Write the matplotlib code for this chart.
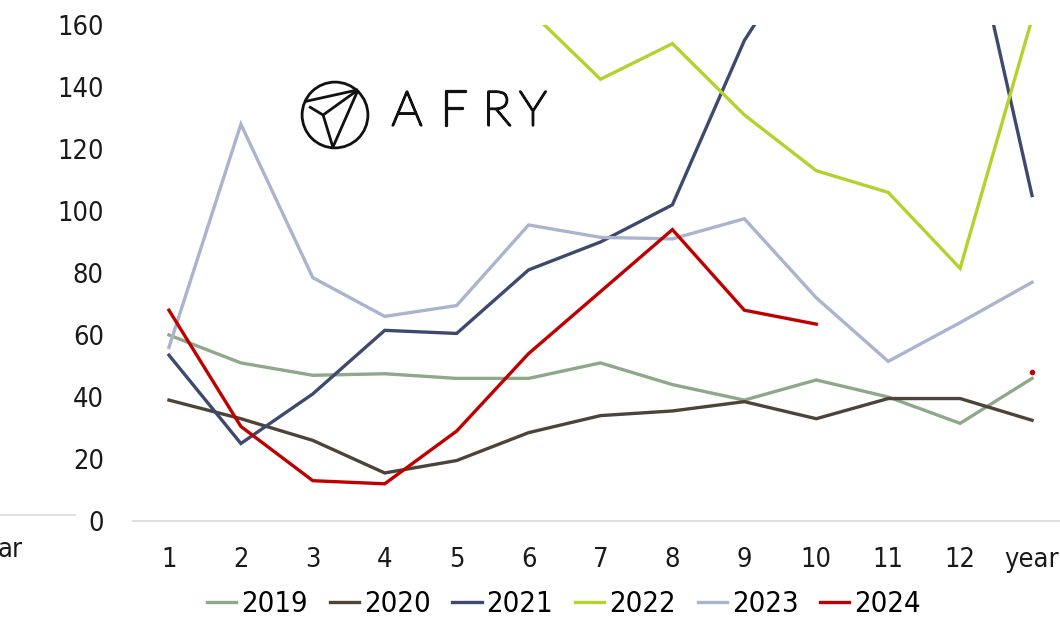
import numpy as np
import matplotlib.pyplot as plt
import matplotlib.patheffects as pe
from matplotlib.lines import Line2D
from matplotlib.patches import Circle

nan = np.nan

# monthly averages, last point is the yearly average
categories = ["1", "2", "3", "4", "5", "6", "7", "8", "9", "10", "11", "12", "year"]
y2019 = [60, 51, 47, 47.5, 46, 46, 51, 44, 39, 45.5, 40, 31.5, 46]
y2020 = [39, 33, 26, 15.5, 19.5, 28.5, 34, 35.5, 38.5, 33, 39.5, 39.5, 32.5]
y2021 = [53.5, 25, 41, 61.5, 60.5, 81, 90, 102, 155, 191, 180, 208, 105]
y2022 = [180, 172, 230, 190, 175, 165, 142.5, 154, 131, 113, 106, 81.5, 162]
y2023 = [56, 128, 78.5, 66, 69.5, 95.5, 91.5, 91, 97.5, 72, 51.5, 64, 77]
y2024 = [68, 30.5, 13, 12, 29, 54, 74, 94, 68, 63.5, nan, nan, 48]

series = {
    "2019": (y2019, "#8ea88a"),
    "2020": (y2020, "#4d4336"),
    "2021": (y2021, "#3d4a6d"),
    "2022": (y2022, "#b4d22c"),
    "2023": (y2023, "#aab4cf"),
    "2024": (y2024, "#c00000"),
}

FONT = ["DejaVu Sans Condensed", "DejaVu Sans"]
plt.rcParams["font.family"] = FONT
plt.rcParams["font.stretch"] = "condensed"

W, H = 1060, 619
fig = plt.figure(figsize=(W / 100, H / 100), dpi=100)
ax = fig.add_axes([133 / W, 1 - 521 / H, 935 / W, 496 / H])

x = np.arange(1, len(categories) + 1)
for name, (vals, col) in series.items():
    ax.plot(x, vals, color=col, lw=2.4, label=name, solid_joinstyle="miter")
# yearly 2024 value stands alone
ax.plot(x[-1:], y2024[-1:], "o", color="#c00000", ms=4, mec="none")

ax.set_xlim(0.5, 13.5)
ax.set_ylim(0, 160)
ax.set_yticks(np.arange(0, 161, 20))
ax.set_xticks(x)
ax.set_xticklabels(categories)
for s in ["top", "right", "left"]:
    ax.spines[s].set_visible(False)
ax.spines["bottom"].set_color("#d9d9d9")
ax.spines["bottom"].set_linewidth(1.2)
ax.tick_params(axis="both", length=0, labelsize=19.5, colors="#1a1a1a")
ax.tick_params(axis="y", pad=21)
ax.tick_params(axis="x", pad=19)

leg = ax.legend(loc="center", bbox_to_anchor=(564 / W, 1 - 604 / H),
                bbox_transform=fig.transFigure, ncol=6, frameon=False,
                fontsize=21, handlelength=1.0, handletextpad=0.17,
                columnspacing=0.75)

# logo
lax = fig.add_axes([300 / W, 1 - 150 / H, 70 / W, 70 / H])
lax.set_xlim(0, 1)
lax.set_ylim(0, 1)
lax.axis("off")
lax.add_patch(Circle((0.5, 0.5), 0.47, fill=False, lw=2.0, color="#111111"))
P, L, L2, C, B = (0.83, 0.86), (0.06, 0.69), (0.13, 0.62), (0.33, 0.5), (0.47, 0.04)
for a, b in [(P, L), (P, C), (P, B), (C, B), (L2, C)]:
    lax.plot([a[0], b[0]], [a[1], b[1]], color="#111111", lw=2.0,
             solid_capstyle="butt")
for ch, cx in zip("AFRY", [407, 454, 497, 533]):
    fig.text(cx / W, 1 - 112 / H, ch, ha="center", va="center",
             fontsize=35, family=["Lato", "DejaVu Sans"], fontstretch="normal",
             fontweight="light", color="#111111",
             path_effects=[pe.withStroke(linewidth=1.6, foreground="#111111")])

# edge of the neighbouring panel
fig.text(23 / W, 1 - 550 / H, "ar", ha="right", va="center", fontsize=19.5,
         color="#1a1a1a")
fig.add_artist(Line2D([0, 75 / W], [1 - 515 / H, 1 - 515 / H],
                      color="#d9d9d9", lw=1.2, transform=fig.transFigure))

fig.savefig("out.png", dpi=100)
